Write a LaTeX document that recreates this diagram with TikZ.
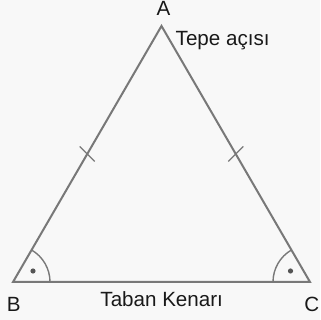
\documentclass[tikz,border=0pt]{standalone}
\usepackage{fontspec}
\setmainfont{Liberation Sans}
\usetikzlibrary{calc}
\definecolor{bgc}{RGB}{248,248,248}
\definecolor{edgec}{RGB}{120,120,120}
\definecolor{dotc}{RGB}{85,85,85}
\definecolor{txtc}{RGB}{25,25,25}
\begin{document}
\begin{tikzpicture}[x=1pt,y=1pt,
  edge/.style={draw=edgec,line width=2pt,line join=miter},
  anglearc/.style={draw=edgec,line width=1.4pt},
  tickmark/.style={draw=edgec,line width=1.4pt},
  lbl/.style={text=txtc,inner sep=0pt,font=\fontsize{20.6}{24}\selectfont}]
\useasboundingbox (0,0) rectangle (320,320);
\fill[bgc] (0,0) rectangle (320,320);
\coordinate (A) at (161.5,294);
\coordinate (B) at (13,38);
\coordinate (C) at (310,38);
\draw[edge] (A) -- (B) -- (C) -- cycle;
% angle marks
\draw[anglearc] ($(B)+(37,0)$) arc[start angle=0,end angle=60,radius=37];
\draw[anglearc] ($(C)+(-37,0)$) arc[start angle=180,end angle=120,radius=37];
\fill[dotc] ($(B)+(20,11)$) circle[radius=2.6];
\fill[dotc] ($(C)+(-19.5,11)$) circle[radius=2.6];
% tick marks
\coordinate (mAB) at ($(A)!0.5!(B)$);
\coordinate (mAC) at ($(A)!0.5!(C)$);
\draw[tickmark] ($(mAB)+(-7.5,7.5)$) -- ($(mAB)+(7.5,-7.5)$);
\draw[tickmark] ($(mAC)+(7.5,7.5)$) -- ($(mAC)+(-7.5,-7.5)$);
% labels
\node[lbl,anchor=base] (lA) at (163.5,304.5) {A};
\node[lbl,anchor=base] (lB) at (13.7,8.3) {B};
\node[lbl,anchor=base] (lC) at (311.7,8.3) {C};
\node[lbl,anchor=base west] (tepe) at (175.5,274.3) {Tepe açısı};
\node[lbl,anchor=base] (taban) at (161.7,13.3) {Taban Kenarı};
\end{tikzpicture}
\end{document}
